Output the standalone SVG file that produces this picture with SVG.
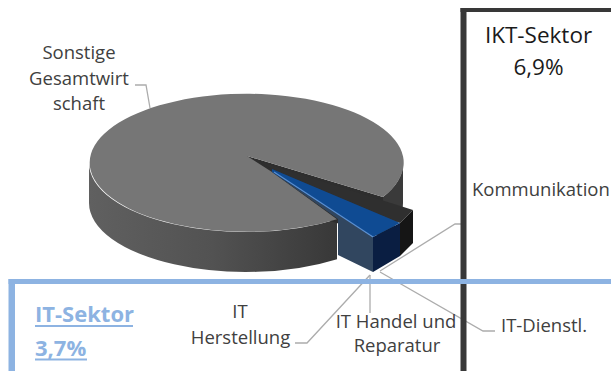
<svg xmlns="http://www.w3.org/2000/svg" width="611" height="371" viewBox="0 0 611 371">
  <defs>
    <linearGradient id="sideGrad" x1="89" y1="0" x2="337" y2="0" gradientUnits="userSpaceOnUse">
      <stop offset="0" stop-color="#606060"/>
      <stop offset="0.5" stop-color="#525252"/>
      <stop offset="1" stop-color="#383838"/>
    </linearGradient>
    <style>
      .lbl { font-family: "Open Sans", "Liberation Sans", sans-serif; font-size: 18.5px; fill: #404040; }
      .big { font-family: "Open Sans", "Liberation Sans", sans-serif; font-size: 22.5px; fill: #1a1a1a; }
      .it { font-family: "Open Sans", "Liberation Sans", sans-serif; font-size: 22px; font-weight: bold; fill: #8db3e2; }
      .lead { fill: none; stroke: #acacac; stroke-width: 1.3; }
    </style>
  </defs>
  <rect width="611" height="371" fill="#ffffff"/>

  <!-- pie chart -->
  <g id="pie">
    <g id="slice-sonstige">
      <path d="M 89,163 A 157,69 0 0 0 337,219.2 L 337,259.2 A 157,69 0 0 1 89,203 Z" fill="url(#sideGrad)"/>
      <path d="M 383,197 A 157,69 0 0 0 403,163 L 403,203 A 157,69 0 0 1 383,237 Z" fill="#3a3a3a"/>
      <polygon points="247,156 383,197 383,237 247,196" fill="#2e2e2e"/>
      <path d="M 247,156 L 383,197 A 157,69 0 1 0 337,219.2 L 272,172 Z" fill="#767676"/>
    </g>
    <g id="slice-kommunikation">
      <polygon points="258,161 413,210 400,223 272,169" fill="#2f2f2f"/>
      <polygon points="400,223 413,210 413,243 400,256" fill="#151515"/>
    </g>
    <g id="slice-it">
      <polygon points="272,172 373,237 373,272 338,255 338,219" fill="#31465f"/>
      <polygon points="373,237 400,223 400,256 373,272" fill="#0a1e42"/>
      <polygon points="272,169 400,223 373,237 272,172" fill="#0f4b93"/>
      <line x1="274" y1="172" x2="373" y2="237" stroke="#5b8fd0" stroke-width="1.2"/>
    </g>
  </g>

  <!-- connectors (leader lines) -->
  <g id="connectors">
    <polyline class="lead" points="135,85 146,85 150,108"/>
    <polyline class="lead" points="380,271 455,224 462,224"/>
    <polyline class="lead" points="370,275 307,343 295,343"/>
    <polyline class="lead" points="370,275 370,313"/>
    <polyline class="lead" points="380,272 483,331 495,331"/>
  </g>

  <!-- IKT frame -->
  <g id="ikt-frame">
    <rect x="460.5" y="8" width="6" height="363" fill="#383838"/>
    <rect x="460.5" y="8" width="151" height="4" fill="#383838"/>
  </g>

  <!-- IT frame -->
  <g id="it-frame">
    <rect x="8.5" y="279" width="6.5" height="92" fill="#8db3e2"/>
    <rect x="8.5" y="279" width="603" height="5" fill="#8db3e2"/>
  </g>

  <!-- labels -->
  <g id="label-sonstige">
    <text class="lbl" x="79" y="59" text-anchor="middle">Sonstige</text>
    <text class="lbl" x="79" y="84.5" text-anchor="middle">Gesamtwirt</text>
    <text class="lbl" x="79" y="109.5" text-anchor="middle">schaft</text>
  </g>
  <g id="label-ikt">
    <text class="big" x="538.5" y="43" text-anchor="middle">IKT-Sektor</text>
    <text class="big" x="538.5" y="75" text-anchor="middle">6,9%</text>
  </g>
  <g id="label-kommunikation">
    <text class="lbl" x="472" y="196">Kommunikation</text>
  </g>
  <g id="label-it-sektor">
    <text class="it" x="35" y="321.5">IT-Sektor</text>
    <line x1="35" y1="326" x2="133" y2="326" stroke="#8db3e2" stroke-width="2"/>
    <text class="it" x="35" y="356">3,7%</text>
    <line x1="35" y1="359.5" x2="87" y2="359.5" stroke="#8db3e2" stroke-width="2"/>
  </g>
  <g id="label-herstellung">
    <text class="lbl" x="240" y="318" text-anchor="middle">IT</text>
    <text class="lbl" x="240.5" y="344" text-anchor="middle">Herstellung</text>
  </g>
  <g id="label-handel">
    <text class="lbl" x="396" y="328" text-anchor="middle">IT Handel und</text>
    <text class="lbl" x="397" y="352" text-anchor="middle">Reparatur</text>
  </g>
  <g id="label-dienstl">
    <text class="lbl" x="501" y="331.5">IT-Dienstl.</text>
  </g>
</svg>
